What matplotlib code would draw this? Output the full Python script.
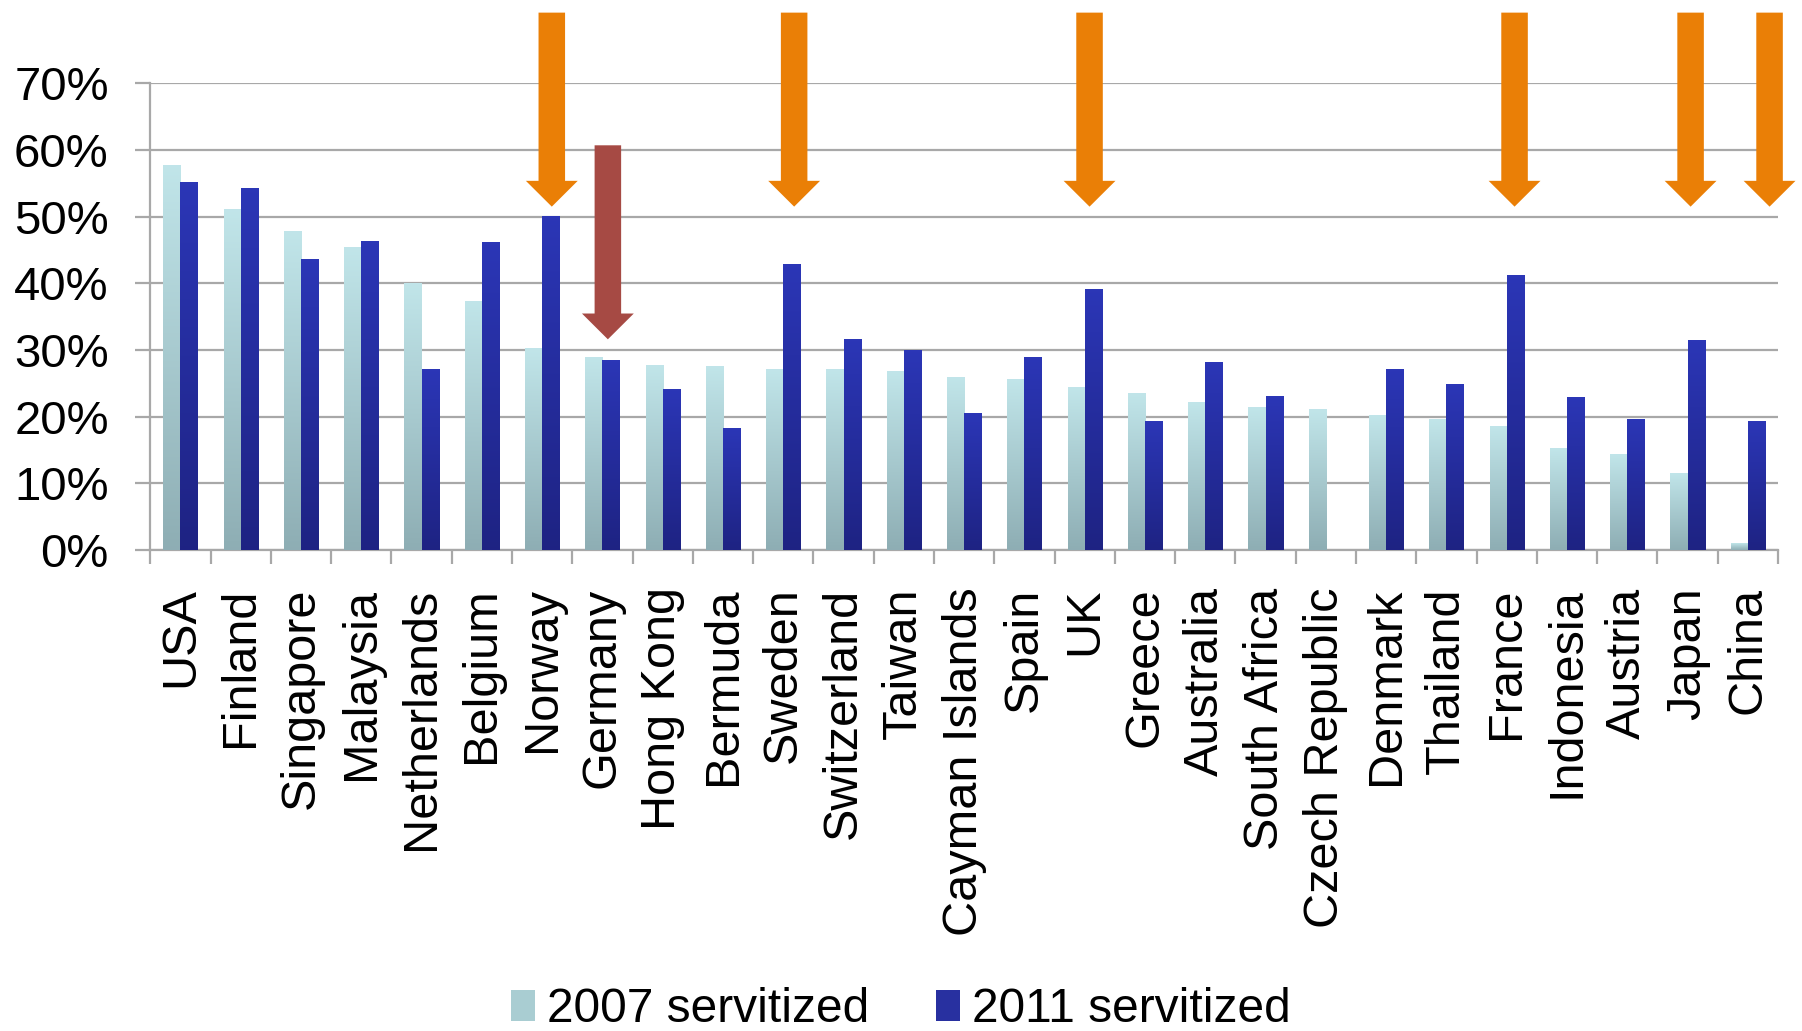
import numpy as np
import matplotlib
matplotlib.use("Agg")
import matplotlib.pyplot as plt
from matplotlib.patches import Patch
from matplotlib.ticker import PercentFormatter, FixedLocator

# ---------------- data ----------------
countries = ["USA", "Finland", "Singapore", "Malaysia", "Netherlands", "Belgium",
             "Norway", "Germany", "Hong Kong", "Bermuda", "Sweden", "Switzerland",
             "Taiwan", "Cayman Islands", "Spain", "UK", "Greece", "Australia",
             "South Africa", "Czech Republic", "Denmark", "Thailand", "France",
             "Indonesia", "Austria", "Japan", "China"]
servitized_2007 = [57.7, 51.1, 47.7, 45.3, 39.9, 37.2, 30.2, 28.9, 27.7, 27.5,
                   27.1, 27.0, 26.8, 25.9, 25.6, 24.3, 23.5, 22.1, 21.4, 21.0,
                   20.2, 19.5, 18.5, 15.2, 14.3, 11.5, 1.0]
servitized_2011 = [55.1, 54.2, 43.5, 46.3, 27.0, 46.1, 50.0, 28.4, 24.1, 18.2,
                   42.8, 31.6, 29.9, 20.4, 28.8, 39.0, 19.2, 28.1, 23.0, 0.0,
                   27.0, 24.8, 41.1, 22.8, 19.5, 31.4, 19.2]
yticks = [0, 10, 20, 30, 40, 50, 60, 70]
series_labels = ["2007 servitized", "2011 servitized"]

# annotation arrows: (country, horizontal offset, top value, tip value, colour)
arrows = [("Norway", 0.16, 80.6, 51.5, "#EA7F06"),
          ("Germany", 0.09, 60.7, 31.6, "#A64A44"),
          ("Sweden", 0.18, 80.6, 51.5, "#EA7F06"),
          ("UK", 0.08, 80.6, 51.5, "#EA7F06"),
          ("France", 0.13, 80.6, 51.5, "#EA7F06"),
          ("Japan", 0.05, 80.6, 51.5, "#EA7F06"),
          ("China", 0.36, 80.6, 51.5, "#EA7F06")]

# ---------------- figure ----------------
plt.rcParams['font.family'] = ['Liberation Sans', 'DejaVu Sans']
fig = plt.figure(figsize=(18.02, 10.31), dpi=100)
ax = fig.add_axes([150.3 / 1802, 1 - 550 / 1031, (1778 - 150.3) / 1802, (550 - 83.3) / 1031])

x = np.arange(len(countries))
w = 0.285
light_top, light_bot = np.array([0.755, 0.898, 0.914]), np.array([0.557, 0.682, 0.706])
dark_top, dark_bot = np.array([0.169, 0.212, 0.714]), np.array([0.118, 0.137, 0.514])

bars1 = ax.bar(x - w / 2, servitized_2007, w, color="#A9CDD2", zorder=2, linewidth=0)
bars2 = ax.bar(x + w / 2, servitized_2011, w, color="#2830A0", zorder=2, linewidth=0)

def gradient_fill(bars, top, bot):
    n = 64
    t = np.linspace(0, 1, n)[:, None]
    img = (top[None, :] * (1 - t) + bot[None, :] * t)
    img = img[:, None, :]
    for b in bars:
        h = b.get_height()
        if h <= 0:
            continue
        x0 = b.get_x()
        ax.imshow(img, extent=[x0, x0 + b.get_width(), 0, h], aspect='auto',
                  origin='upper', zorder=3, interpolation='bilinear')

gradient_fill(bars1, light_top, light_bot)
gradient_fill(bars2, dark_top, dark_bot)

ax.set_xlim(-0.5, len(countries) - 0.5)
ax.set_ylim(0, 70)

# grid & spines
grid_c = "#A8A8A8"
ax.yaxis.set_major_locator(FixedLocator(yticks))
ax.yaxis.set_major_formatter(PercentFormatter(decimals=0))
ax.grid(axis='y', color=grid_c, linewidth=1.6, zorder=1)
ax.set_axisbelow(True)
for s in ["top", "right"]:
    ax.spines[s].set_visible(False)
for s in ["left", "bottom"]:
    ax.spines[s].set_color(grid_c)
    ax.spines[s].set_linewidth(1.6)

ax.tick_params(axis='y', direction='out', length=11, width=1.6, color=grid_c,
               labelsize=34, pad=19, labelcolor='black')
ax.set_xticks(x)
ax.set_xticklabels(countries, rotation=90, fontsize=35, va='top', ha='center')
ax.tick_params(axis='x', length=0, pad=27)
ax.set_xticks(np.arange(-0.5, len(countries) + 0.5, 1), minor=True)
ax.tick_params(axis='x', which='minor', direction='out', length=10, width=1.6, color=grid_c)

# arrows
idx = {c: i for i, c in enumerate(countries)}
for c, off, top, tip, col in arrows:
    xa = idx[c] + off
    ax.arrow(xa, top, 0, tip - top, width=0.44, head_width=0.86, head_length=3.87,
             length_includes_head=True, color=col, linewidth=0, clip_on=False, zorder=5)

# legend
handles = [Patch(facecolor="#A9CDD2", edgecolor='none'),
           Patch(facecolor="#2830A0", edgecolor='none')]
fig.legend(handles, series_labels, loc='center', bbox_to_anchor=(0.5, 1 - 1010 / 1031),
           ncol=2, frameon=False, fontsize=34.5, handlelength=0.5, handleheight=0.6,
           handletextpad=0.25, columnspacing=1.4, borderaxespad=0)

fig.savefig("out.png", dpi=100)
